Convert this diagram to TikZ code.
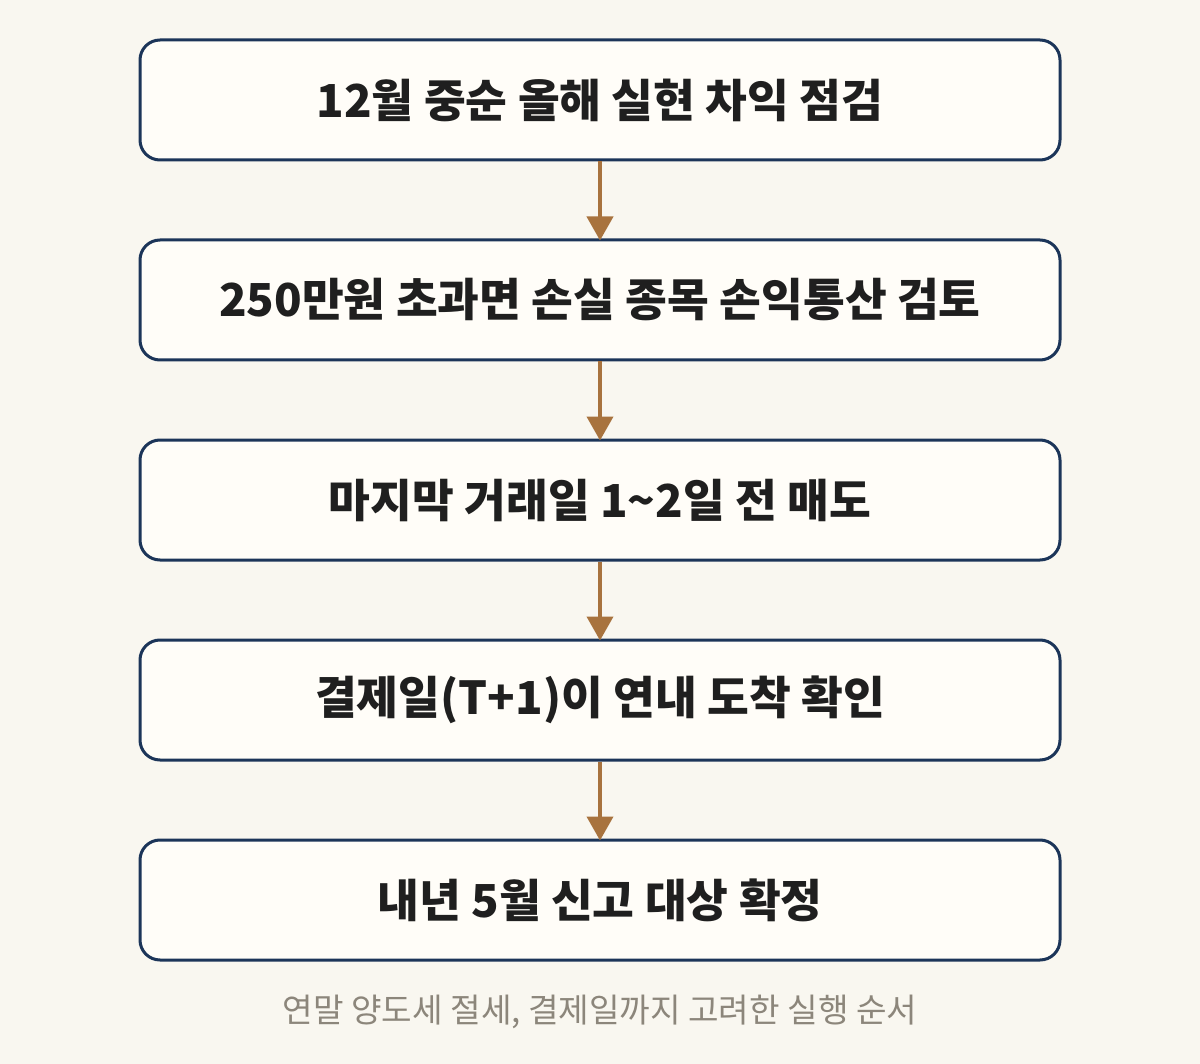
\documentclass[tikz,border=0pt]{standalone}
\usepackage{fontspec}
\setmainfont{Noto Sans CJK KR}
\usetikzlibrary{arrows.meta, positioning}

\definecolor{bgpaper}{HTML}{F9F7F0}
\definecolor{boxfill}{HTML}{FFFDF8}
\definecolor{navyline}{HTML}{1C3559}
\definecolor{arrowbrown}{HTML}{A8733E}
\definecolor{notegray}{HTML}{8C867B}

\begin{document}
\begin{tikzpicture}[x=0.5pt, y=-0.5pt,
	stepbox/.style={draw=navyline, fill=boxfill, line width=1.5pt,
		rounded corners=10pt, minimum width=460pt, minimum height=60pt,
		inner sep=0pt, font=\fontsize{22.7}{27}\selectfont\bfseries, text=black!88},
	flowarrow/.style={draw=arrowbrown, line width=2pt,
		-{Triangle[width=13pt, length=12pt, fill=arrowbrown]}, shorten >=-1pt}
]
	\fill[bgpaper] (0,0) rectangle (1200,1064);
	\useasboundingbox (0,0) rectangle (1200,1064);

	\node[stepbox] (s1) at (600,100) {12월 중순 올해 실현 차익 점검};
	\node[stepbox] (s2) at (600,300) {250만원 초과면 손실 종목 손익통산 검토};
	\node[stepbox] (s3) at (600,500) {마지막 거래일 1\textasciitilde 2일 전 매도};
	\node[stepbox] (s4) at (600,700) {결제일(T+1)이 연내 도착 확인};
	\node[stepbox] (s5) at (600,900) {내년 5월 신고 대상 확정};

	\node[font=\fontsize{16.6}{20}\selectfont, text=notegray] (note) at (600,1012)
		{연말 양도세 절세, 결제일까지 고려한 실행 순서};

	\draw[flowarrow] (s1) -- (s2);
	\draw[flowarrow] (s2) -- (s3);
	\draw[flowarrow] (s3) -- (s4);
	\draw[flowarrow] (s4) -- (s5);
\end{tikzpicture}
\end{document}
